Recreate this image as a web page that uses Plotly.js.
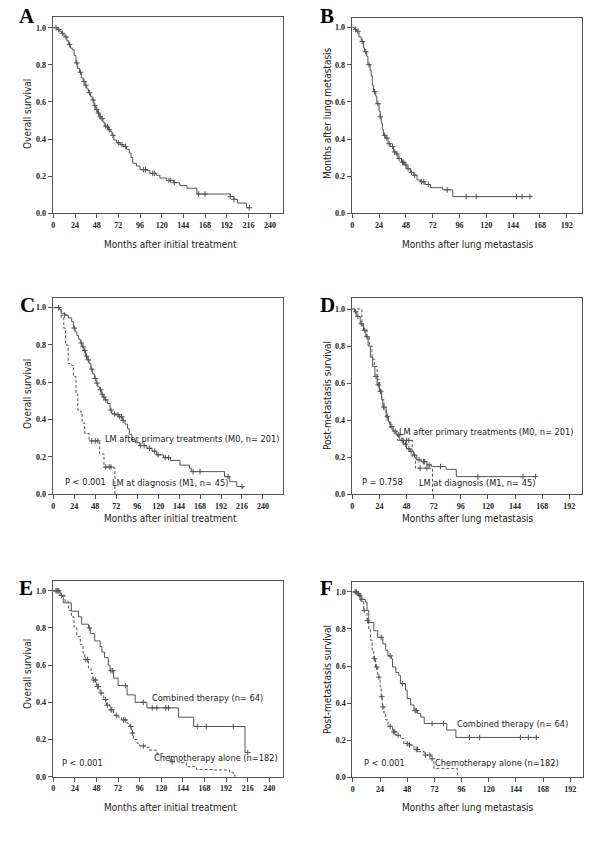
<!DOCTYPE html>
<html>
<head>
<meta charset="utf-8">
<script src="https://cdn.plot.ly/plotly-3.0.1.min.js"></script>
<style>body{margin:0;background:#fff}</style>
</head>
<body>
<div id="graph" style="width:600px;height:849px"></div>
<script>
// Kaplan-Meier curves, (time in months, survival)

// A: overall survival, all patients
var aTime = [0, 5, 7, 9, 11, 13, 15, 17, 19, 21, 23, 25, 27, 29, 31, 33, 35, 37, 39, 41, 43, 45, 47, 49, 51, 53, 55, 57, 59, 61, 63, 65, 67, 70, 74, 78, 81, 84, 86, 88, 92, 96, 104, 107, 114, 118, 125, 133, 140, 148, 159, 196, 200, 204, 214, 217];
var aSurv = [1.0, 0.99, 0.98, 0.97, 0.96, 0.95, 0.93, 0.91, 0.89, 0.88, 0.85, 0.81, 0.78, 0.76, 0.73, 0.71, 0.69, 0.67, 0.65, 0.63, 0.61, 0.58, 0.56, 0.54, 0.52, 0.51, 0.49, 0.47, 0.465, 0.45, 0.44, 0.42, 0.395, 0.38, 0.37, 0.36, 0.345, 0.325, 0.30, 0.27, 0.255, 0.235, 0.23, 0.215, 0.205, 0.19, 0.177, 0.165, 0.15, 0.135, 0.104, 0.09, 0.075, 0.055, 0.03, 0.03];
var aCens = [3, 6, 10, 14, 18, 26, 30, 34, 36, 40, 44, 46, 48, 50, 52, 54, 58, 60, 62, 66, 72, 76, 80, 100, 102, 110, 112, 128, 130, 134, 161, 168, 196, 200, 217];

// B: survival after lung metastasis
var bTime = [0, 2, 4, 6, 8, 10, 11, 13, 14, 16, 17, 18, 19, 21, 22, 24, 25, 26, 27, 28, 30, 32, 34, 37, 39, 41, 44, 47, 49, 52, 55, 58, 61, 65, 70, 81, 90, 159];
var bSurv = [1.0, 0.99, 0.98, 0.95, 0.925, 0.89, 0.87, 0.845, 0.80, 0.77, 0.74, 0.69, 0.655, 0.63, 0.59, 0.55, 0.52, 0.485, 0.45, 0.42, 0.405, 0.375, 0.36, 0.33, 0.32, 0.295, 0.275, 0.26, 0.24, 0.22, 0.205, 0.18, 0.17, 0.155, 0.138, 0.126, 0.09, 0.09];
var bCens = [3, 5, 9, 12, 15, 20, 23, 25, 29, 31, 33, 36, 38, 40, 42, 45, 46, 48, 50, 53, 56, 62, 64, 68, 85, 102, 111, 147, 152, 159];

// C: overall survival, M0 vs M1
var cM0Time = [0, 7, 9, 13, 17, 21, 23, 25, 27, 29, 31, 33, 35, 37, 39, 41, 43, 45, 47, 49, 51, 53, 55, 57, 59, 62, 65, 67, 71, 75, 79, 82, 85, 87, 90, 94, 99, 107, 113, 118, 126, 134, 145, 156, 158, 196, 202, 210, 217];
var cM0Surv = [1.0, 0.99, 0.97, 0.96, 0.945, 0.925, 0.89, 0.87, 0.85, 0.83, 0.81, 0.79, 0.77, 0.74, 0.72, 0.70, 0.67, 0.645, 0.62, 0.595, 0.575, 0.56, 0.535, 0.52, 0.505, 0.485, 0.45, 0.43, 0.425, 0.415, 0.395, 0.375, 0.35, 0.32, 0.29, 0.275, 0.26, 0.245, 0.23, 0.21, 0.195, 0.18, 0.155, 0.138, 0.12, 0.093, 0.066, 0.04, 0.03];
var cM0Cens = [6, 13, 24, 32, 34, 36, 38, 40, 44, 48, 50, 54, 56, 58, 60, 66, 70, 74, 76, 78, 80, 100, 104, 110, 116, 120, 128, 132, 160, 168, 200, 216];
var cM1Time = [0, 9, 12, 14, 17, 21, 23, 26, 28, 31, 33, 36, 41, 53, 58, 68, 70.6];
var cM1Surv = [1.0, 0.945, 0.89, 0.80, 0.70, 0.69, 0.63, 0.54, 0.45, 0.44, 0.38, 0.325, 0.285, 0.215, 0.145, 0.14, 0.0];
var cM1Cens = [44, 48, 51, 60, 64, 66];

// D: post-metastasis survival, M0 vs M1
var dM0Time = [0, 2, 4, 7, 10, 12, 14, 16, 18, 20, 22, 24, 26, 27, 30, 32, 34, 36, 39, 42, 45, 48, 51, 54, 57, 61, 66, 70, 83, 92, 162];
var dM0Surv = [1.0, 0.985, 0.96, 0.92, 0.885, 0.85, 0.80, 0.74, 0.69, 0.635, 0.59, 0.555, 0.51, 0.47, 0.42, 0.39, 0.365, 0.34, 0.32, 0.29, 0.27, 0.245, 0.23, 0.21, 0.185, 0.175, 0.157, 0.148, 0.133, 0.094, 0.094];
var dM0Cens = [3, 5, 8, 11, 13, 21, 23, 25, 28, 31, 35, 38, 41, 44, 47, 50, 52, 55, 59, 63, 64, 68, 78, 111, 151, 162];
var dM1Time = [0, 8.5, 10, 13, 15, 17.5, 19.5, 22, 24, 26, 28, 30, 33, 36, 40, 53, 56, 71];
var dM1Surv = [1.0, 0.91, 0.89, 0.85, 0.80, 0.73, 0.69, 0.62, 0.565, 0.51, 0.45, 0.40, 0.36, 0.33, 0.29, 0.20, 0.14, 0.0];
var dM1Cens = [45, 48, 50, 60, 66];

// E: overall survival by treatment
var eCombTime = [0, 6, 7.5, 9, 11, 20, 28, 31.5, 39, 41, 46, 52, 54, 57, 61, 63, 67, 72, 82, 91, 104, 139, 156, 213, 216];
var eCombSurv = [1.0, 0.995, 0.985, 0.97, 0.935, 0.89, 0.86, 0.82, 0.80, 0.77, 0.73, 0.70, 0.67, 0.64, 0.60, 0.57, 0.53, 0.49, 0.44, 0.40, 0.37, 0.32, 0.27, 0.13, 0.13];
var eCombCens = [3, 5, 40, 64, 66, 80, 100, 110, 115, 125, 128, 160, 170, 200, 216];
var eChemoTime = [0, 7, 13, 17, 20, 23, 26, 30, 33, 35, 39, 42, 44, 48, 52, 56, 59, 63, 67, 72, 76, 82, 85, 87, 89, 93, 96, 104, 107, 115, 122, 130, 141, 148, 159, 178, 196, 200, 202];
var eChemoSurv = [1.0, 0.975, 0.94, 0.895, 0.86, 0.805, 0.755, 0.71, 0.665, 0.63, 0.585, 0.555, 0.52, 0.485, 0.45, 0.415, 0.385, 0.36, 0.33, 0.32, 0.305, 0.287, 0.27, 0.235, 0.20, 0.18, 0.165, 0.158, 0.143, 0.125, 0.108, 0.08, 0.075, 0.054, 0.039, 0.036, 0.022, 0.009, 0.0];
var eChemoCens = [4, 6, 9, 36, 38, 45, 47, 49, 50, 53, 58, 60, 64, 65, 70, 78, 80, 86, 88, 100, 132];

// F: post-metastasis survival by treatment
var fCombTime = [0, 4, 7, 11, 12.5, 14, 18.5, 22, 26.5, 29, 31, 34, 35, 38, 40.5, 42, 46.5, 48, 51, 54, 57, 60, 63, 83, 91, 162];
var fCombSurv = [1.0, 0.99, 0.96, 0.945, 0.90, 0.835, 0.79, 0.755, 0.72, 0.685, 0.655, 0.64, 0.595, 0.565, 0.55, 0.505, 0.47, 0.425, 0.39, 0.36, 0.345, 0.325, 0.29, 0.255, 0.215, 0.215];
var fCombCens = [2, 5, 8, 25, 33, 44, 55, 56, 70, 80, 103, 112, 148, 155, 162];
var fChemoTime = [0, 4, 7, 9.5, 12.5, 14, 15.5, 17, 18.5, 20, 22, 24, 25, 26, 27.5, 29, 31, 35, 38, 42, 45, 49.5, 54, 58, 63, 69, 71.5, 92.3];
var fChemoSurv = [1.0, 0.98, 0.95, 0.90, 0.845, 0.80, 0.74, 0.685, 0.64, 0.595, 0.54, 0.49, 0.435, 0.38, 0.345, 0.31, 0.275, 0.245, 0.227, 0.21, 0.182, 0.174, 0.15, 0.138, 0.12, 0.10, 0.048, 0.0];
var fChemoCens = [3, 6, 10, 13, 19, 21, 23, 25.5, 26.5, 33, 36, 37, 40, 48, 50, 56, 57, 64, 68, 70];

var ticks240 = [0, 24, 48, 72, 96, 120, 144, 168, 192, 216, 240];
var ticks192 = [0, 24, 48, 72, 96, 120, 144, 168, 192];
var survTicks = [0, 0.2, 0.4, 0.6, 0.8, 1.0];

var W = 600, H = 849;
var txtFont = 'DejaVu Sans Condensed, DejaVu Sans, sans-serif';
var lineCol = '#555';

// survival level of the step curve at time x (censor marks sit on it)
function stepAt(t, s, x) {
	var v = s[0];
	for (var i = 0; i < t.length; i++) {
		if (t[i] <= x) v = s[i];
	}
	return v;
}

function curve(t, s, ax, dashed) {
	return {
		x: t, y: s, xaxis: 'x' + ax, yaxis: 'y' + ax,
		type: 'scatter', mode: 'lines', hoverinfo: 'skip',
		line: { shape: 'hv', color: lineCol, width: 1, dash: dashed ? '3px,2px' : 'solid' }
	};
}

function marks(t, s, cens, ax) {
	var ys = cens.map(function (c) { return stepAt(t, s, c); });
	return {
		x: cens, y: ys, xaxis: 'x' + ax, yaxis: 'y' + ax,
		type: 'scatter', mode: 'markers', hoverinfo: 'skip',
		marker: { symbol: 'cross-thin', size: 4, line: { width: 1, color: '#555' } }
	};
}

var data = [
	curve(aTime, aSurv, '', false), marks(aTime, aSurv, aCens, ''),
	curve(bTime, bSurv, '2', false), marks(bTime, bSurv, bCens, '2'),
	curve(cM0Time, cM0Surv, '3', false), marks(cM0Time, cM0Surv, cM0Cens, '3'),
	curve(cM1Time, cM1Surv, '3', true), marks(cM1Time, cM1Surv, cM1Cens, '3'),
	curve(dM0Time, dM0Surv, '4', false), marks(dM0Time, dM0Surv, dM0Cens, '4'),
	curve(dM1Time, dM1Surv, '4', true), marks(dM1Time, dM1Surv, dM1Cens, '4'),
	curve(eCombTime, eCombSurv, '5', false), marks(eCombTime, eCombSurv, eCombCens, '5'),
	curve(eChemoTime, eChemoSurv, '5', true), marks(eChemoTime, eChemoSurv, eChemoCens, '5'),
	curve(fCombTime, fCombSurv, '6', false), marks(fCombTime, fCombSurv, fCombCens, '6'),
	curve(fChemoTime, fChemoSurv, '6', true), marks(fChemoTime, fChemoSurv, fChemoCens, '6')
];

// plot frames in pixels: [left, right], [top, bottom]
var panels = [
	{ ax: '', px: [52.7, 282.7], py: [17.3, 213.3], xr: [-0.7, 254], yr: [0, 1.056], xt: ticks240 },
	{ ax: '2', px: [351.7, 581.7], py: [18.3, 213.3], xr: [-0.5, 205.4], yr: [0, 1.05], xt: ticks192 },
	{ ax: '3', px: [52.7, 282.7], py: [298.3, 494], xr: [-0.7, 262.6], yr: [0, 1.05], xt: ticks240 },
	{ ax: '4', px: [351.7, 581.7], py: [298.3, 494], xr: [-0.5, 202.9], yr: [0, 1.058], xt: ticks192 },
	{ ax: '5', px: [52.7, 282.7], py: [580.7, 776.7], xr: [-0.7, 254.9], yr: [0, 1.054], xt: ticks240 },
	{ ax: '6', px: [352.3, 582.7], py: [581.7, 777.3], xr: [-0.5, 203], yr: [0, 1.055], xt: ticks192 }
];

var layout = {
	width: W, height: H,
	margin: { l: 0, r: 0, t: 0, b: 0 },
	showlegend: false,
	paper_bgcolor: '#fff', plot_bgcolor: '#fff',
	annotations: []
};

var tickFont = { family: 'Liberation Serif, serif', size: 8, weight: 'bold', color: '#222' };

panels.forEach(function (p) {
	var common = {
		showgrid: false, zeroline: false, showline: true, mirror: true,
		linecolor: lineCol, linewidth: 1, ticks: 'outside', ticklen: 4,
		tickcolor: lineCol, tickfont: tickFont, fixedrange: true
	};
	layout['xaxis' + p.ax] = Object.assign({}, common, {
		domain: [p.px[0] / W, p.px[1] / W], range: p.xr,
		tickvals: p.xt, anchor: 'y' + p.ax
	});
	layout['yaxis' + p.ax] = Object.assign({}, common, {
		domain: [1 - p.py[1] / H, 1 - p.py[0] / H], range: p.yr,
		tickvals: survTicks, tickformat: '.1f', anchor: 'x' + p.ax
	});
});

function note(text, x, y, opts) {
	var a = {
		text: text, xref: 'paper', yref: 'paper', x: x / W, y: 1 - y / H,
		showarrow: false, xanchor: 'center', yanchor: 'middle',
		font: { family: txtFont, size: 10, color: '#222' }
	};
	layout.annotations.push(Object.assign(a, opts || {}));
}

// panel letters
var letterFont = { family: 'Liberation Serif, serif', size: 21, weight: 'bold', color: '#000' };
note('A', 27, 16, { font: letterFont });
note('B', 327, 16, { font: letterFont });
note('C', 27, 305, { font: letterFont });
note('D', 327, 305, { font: letterFont });
note('E', 26, 588, { font: letterFont });
note('F', 326, 588, { font: letterFont });

// axis titles
note('Months after initial treatment', 170, 244);
note('Months after lung metastasis', 468, 244);
note('Months after initial treatment', 170, 518);
note('Months after lung metastasis', 468, 518);
note('Months after initial treatment', 170, 807);
note('Months after lung metastasis', 468, 807);
note('Overall survival', 27, 114, { textangle: -90 });
note('Months after lung metastasis', 327, 113, { textangle: -90 });
note('Overall survival', 27, 394, { textangle: -90 });
note('Post-metastasis survival', 327, 396, { textangle: -90 });
note('Overall survival', 27, 674, { textangle: -90 });
note('Post-metastasis survival', 327, 680, { textangle: -90 });

// labels inside the plots
var left = { xanchor: 'left', font: { family: txtFont, size: 9.2, color: '#222' } };
note('LM after primary treatments (M0, n= 201)', 103, 438, left);
note('P < 0.001', 63, 481, left);
note('LM at diagnosis (M1, n= 45)', 110, 482, left);
note('LM after primary treatments (M0, n= 201)', 397, 432, left);
note('P = 0.758', 360, 481, left);
note('LM at diagnosis (M1, n= 45)', 417, 482, left);
note('Combined therapy (n= 64)', 150, 697, left);
note('Chemotherapy alone (n=182)', 152, 757, left);
note('P < 0.001', 60, 762, left);
note('Combined therapy (n= 64)', 455, 723, left);
note('Chemotherapy alone (n=182)', 433, 762, left);
note('P < 0.001', 362, 762, left);

Plotly.newPlot('graph', data, layout, { staticPlot: true });
</script>
</body>
</html>
